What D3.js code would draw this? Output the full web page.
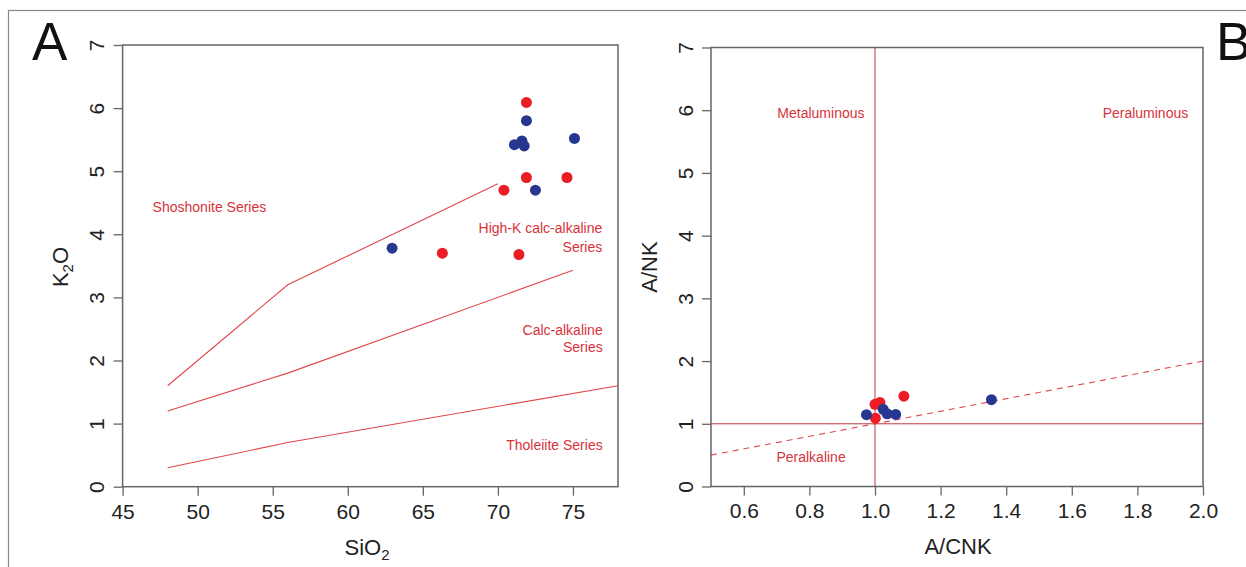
<!DOCTYPE html>
<html>
<head>
<meta charset="utf-8">
<script src="https://cdn.jsdelivr.net/npm/d3@7"></script>
<style>
  html, body { margin: 0; padding: 0; background: #fff; }
  svg { display: block; font-family: "Liberation Sans", Arial, Helvetica, sans-serif; }
</style>
</head>
<body>
<svg id="chart" width="1246" height="567"></svg>
<script>
// ---------------- DATA ----------------
// Panel A: SiO2 vs K2O
const xTicksA = [45, 50, 55, 60, 65, 70, 75];
const yTicksA = [0, 1, 2, 3, 4, 5, 6, 7];
const shoshoniteLine = [[48, 1.6], [56, 3.2], [70, 4.8]];
const highKLine = [[48, 1.2], [56, 1.8], [75, 3.43]];
const tholeiiteLine = [[48, 0.3], [56, 0.7], [78, 1.6]];
const redA = [[71.9, 6.09], [71.9, 4.9], [74.6, 4.9], [70.4, 4.7], [66.3, 3.7], [71.4, 3.68]];
const blueA = [[71.9, 5.8], [71.1, 5.42], [71.6, 5.48], [71.75, 5.4], [75.1, 5.52], [72.5, 4.7], [62.95, 3.78]];

// Panel B: A/CNK vs A/NK
const xTicksB = [0.6, 0.8, 1.0, 1.2, 1.4, 1.6, 1.8, 2.0];
const yTicksB = [0, 1, 2, 3, 4, 5, 6, 7];
const diagonalLine = [[0.5, 0.5], [2.0, 2.0]];
const redB = [[1.088, 1.44], [1.0, 1.31], [1.015, 1.34], [1.001, 1.09]];
const blueB = [[0.974, 1.145], [1.025, 1.23], [1.037, 1.16], [1.063, 1.15], [1.355, 1.385]];

// ---------------- STYLE ----------------
const RED_PT = "#ec1c24", BLUE_PT = "#27378f";
const LINE_RED = "#e0464c", LABEL_RED = "#d8333b", DIV_RED = "#c2353b";
const FRAME = "#666";

const svg = d3.select("#chart");

// outer border
svg.append("rect").attr("x", 8.5).attr("y", 10.5).attr("width", 1400).attr("height", 700)
  .attr("fill", "none").attr("stroke", "#888").attr("stroke-width", 1.2);

function panel(opts) {
  const g = svg.append("g");
  const x = d3.scaleLinear().domain(opts.xDomain).range(opts.xRange);
  const y = d3.scaleLinear().domain(opts.yDomain).range(opts.yRange);

  const ax = d3.axisBottom(x).tickValues(opts.xTicks).tickSize(9).tickPadding(8)
    .tickFormat(opts.xFormat);
  const gx = g.append("g").attr("transform", `translate(0,${opts.yRange[0]})`).call(ax);
  gx.select(".domain").remove();
  gx.selectAll("line").attr("stroke", FRAME).attr("stroke-width", 1.3);
  gx.selectAll("text").attr("font-size", 21).attr("fill", "#222")
    .attr("font-family", "Liberation Sans, Arial, sans-serif");

  const ay = d3.axisLeft(y).tickValues(opts.yTicks).tickSize(9).tickFormat(d3.format("d"));
  const gy = g.append("g").attr("transform", `translate(${opts.xRange[0]},0)`).call(ay);
  gy.select(".domain").remove();
  gy.selectAll("line").attr("stroke", FRAME).attr("stroke-width", 1.3);
  gy.selectAll("text").attr("font-size", 21).attr("fill", "#222")
    .attr("font-family", "Liberation Sans, Arial, sans-serif")
    .attr("x", null).attr("y", 0).attr("dy", "0.36em")
    .attr("text-anchor", "middle")
    .attr("transform", "translate(-26,0) rotate(-90)");

  return { g, x, y };
}

function labels(P, items, anchor) {
  items.forEach(it => {
    P.g.append("text").attr("x", P.x(it[0])).attr("y", P.y(it[1]))
      .attr("text-anchor", anchor).attr("font-size", 14).attr("fill", LABEL_RED)
      .text(it[2]);
  });
}

function dots(P, data, color) {
  P.g.append("g").selectAll("circle").data(data).join("circle")
    .attr("cx", d => P.x(d[0])).attr("cy", d => P.y(d[1])).attr("r", 5.5)
    .attr("fill", color);
}

// ---------------- PANEL A ----------------
const A = panel({
  xDomain: [45, 78], xRange: [122.6, 618],
  yDomain: [0, 7], yRange: [486.7, 45],
  xTicks: xTicksA, yTicks: yTicksA, xFormat: d3.format("d")
});
const lineA = d3.line().x(d => A.x(d[0])).y(d => A.y(d[1]));
[shoshoniteLine, highKLine, tholeiiteLine].forEach(L => {
  A.g.append("path").attr("d", lineA(L)).attr("fill", "none")
    .attr("stroke", LINE_RED).attr("stroke-width", 1.1);
});

A.g.append("rect").attr("x", A.x(45)).attr("y", A.y(7))
  .attr("width", A.x(78) - A.x(45)).attr("height", A.y(0) - A.y(7))
  .attr("fill", "none").attr("stroke", FRAME).attr("stroke-width", 1.5);

labels(A, [[47.0, 4.35, "Shoshonite Series"]], "start");
labels(A, [
  [76.95, 4.02, "High-K calc-alkaline"],
  [76.95, 3.72, "Series"],
  [76.98, 2.41, "Calc-alkaline"],
  [76.98, 2.13, "Series"],
  [76.98, 0.58, "Tholeiite Series"]
], "end");

dots(A, redA, RED_PT);
dots(A, blueA, BLUE_PT);

svg.append("text").attr("x", 367).attr("y", 555).attr("text-anchor", "middle")
  .attr("font-size", 22).attr("fill", "#222")
  .call(t => { t.append("tspan").text("SiO"); t.append("tspan").attr("font-size", 15).attr("dy", 5).text("2"); });
svg.append("text").attr("transform", "translate(68,267) rotate(-90)").attr("text-anchor", "middle")
  .attr("font-size", 22).attr("fill", "#222")
  .call(t => { t.append("tspan").text("K"); t.append("tspan").attr("font-size", 15).attr("dy", 5).text("2");
               t.append("tspan").attr("dy", -5).text("O"); });

// ---------------- PANEL B ----------------
const B = panel({
  xDomain: [0.5, 2.0], xRange: [711, 1203],
  yDomain: [0, 7], yRange: [486.5, 47.5],
  xTicks: xTicksB, yTicks: yTicksB, xFormat: d3.format(".1f")
});
B.g.append("line").attr("x1", B.x(1.0)).attr("x2", B.x(1.0)).attr("y1", B.y(0)).attr("y2", B.y(7))
  .attr("stroke", DIV_RED).attr("stroke-width", 1);
B.g.append("line").attr("x1", B.x(0.5)).attr("x2", B.x(2.0)).attr("y1", B.y(1)).attr("y2", B.y(1))
  .attr("stroke", DIV_RED).attr("stroke-width", 1);
const lineB = d3.line().x(d => B.x(d[0])).y(d => B.y(d[1]));
B.g.append("path").attr("d", lineB(diagonalLine)).attr("fill", "none")
  .attr("stroke", LINE_RED).attr("stroke-width", 1.1).attr("stroke-dasharray", "6,5");

B.g.append("rect").attr("x", B.x(0.5)).attr("y", B.y(7))
  .attr("width", B.x(2.0) - B.x(0.5)).attr("height", B.y(0) - B.y(7))
  .attr("fill", "none").attr("stroke", FRAME).attr("stroke-width", 1.5);

labels(B, [[0.968, 5.87, "Metaluminous"], [1.955, 5.87, "Peraluminous"]], "end");
labels(B, [[0.805, 0.39, "Peralkaline"]], "middle");

dots(B, redB, RED_PT);
dots(B, blueB, BLUE_PT);

svg.append("text").attr("x", 958).attr("y", 554).attr("text-anchor", "middle")
  .attr("font-size", 22).attr("fill", "#222").text("A/CNK");
svg.append("text").attr("transform", "translate(657,267) rotate(-90)").attr("text-anchor", "middle")
  .attr("font-size", 22).attr("fill", "#222").text("A/NK");

// panel letters
svg.append("text").attr("x", 32).attr("y", 60).attr("font-size", 53).attr("fill", "#111").text("A");
svg.append("text").attr("x", 1216).attr("y", 60).attr("font-size", 53).attr("fill", "#111").text("B");
</script>
</body>
</html>
